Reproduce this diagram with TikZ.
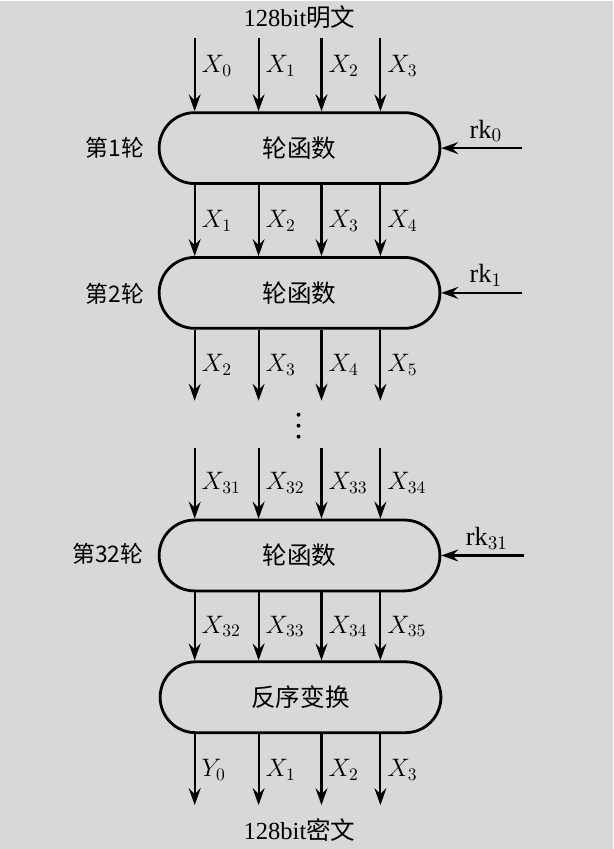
\documentclass[tikz,border=0pt]{standalone}
\usepackage{fontspec}
\setmainfont{Liberation Serif}
\newfontfamily\cjk{Noto Sans CJK SC}
\usetikzlibrary{arrows.meta,shapes.misc}
\definecolor{paper}{RGB}{216,216,216}
\tikzset{
  rbox/.style={draw, rounded rectangle, line width=1.6pt, minimum width=5.86cm, minimum height=1.42cm, font=\cjk\fontsize{14}{16}\selectfont},
  flow/.style={-{Stealth[length=3.4mm, width=2.4mm, inset=1.2mm]}, line width=1.2pt},
  xlbl/.style={midway, anchor=west, inner sep=0pt, xshift=1.2mm, font=\fontsize{14}{16}\selectfont},
  klbl/.style={pos=0.45, above=3pt, inner sep=0pt, font=\fontsize{15}{17}\selectfont},
  rlbl/.style={font=\cjk\fontsize{13}{15}\selectfont},
  ttl/.style={font=\fontsize{14}{16}\selectfont},
  dot/.style={fill=black},
}

\begin{document}
\begin{tikzpicture}[x=0.02cm, y=-0.02cm]
    \fill[paper] (0,0) rectangle (614,849);
    % plaintext in
    \node[ttl] (pt) at (300,16) {128bit{\cjk 明文}};
    \coordinate (a1) at (195,37);
    \coordinate (a2) at (259,37);
    \coordinate (a3) at (322,37);
    \coordinate (a4) at (381,37);
    % rounds
    \node[rbox] (r1) at (300,147) {轮函数};
    \node[rbox] (r2) at (300,292) {轮函数};
    \node[rbox] (r32) at (300,555) {轮函数};
    \node[rbox] (rev) at (301,697) {反序变换};
    \node[rlbl] (n1) at (115,147) {第1轮};
    \node[rlbl] (n2) at (115,293) {第2轮};
    \node[rlbl] (n32) at (108,553) {第32轮};
    \coordinate (k0) at (523,147);
    \coordinate (k1) at (523,292);
    \coordinate (k31) at (525,555);
    \coordinate (cut) at (300,400);
    \coordinate (resume) at (300,447);
    \coordinate (fin) at (300,805);
    \node[ttl] (ct) at (300,830) {128bit{\cjk 密文}};
    % gap between round 2 and round 32
    \fill[dot] (299,414) circle (2);
    \fill[dot] (299,425) circle (2);
    \fill[dot] (299,436) circle (2);
    % round keys
    \draw[flow] (k0) -- (r1.east) node[klbl]{$\mathrm{rk}_0$};
    \draw[flow] (k1) -- (r2.east) node[klbl]{$\mathrm{rk}_1$};
    \draw[flow] (k31) -- (r32.east) node[klbl]{$\mathrm{rk}_{31}$};
    % words
    \draw[flow] (a1) -- (a1 |- r1.north) node[xlbl, pos=0.38]{$X_0$};
    \draw[flow] (a2) -- (a2 |- r1.north) node[xlbl, pos=0.38]{$X_1$};
    \draw[flow] (a3) -- (a3 |- r1.north) node[xlbl, pos=0.38]{$X_2$};
    \draw[flow] (a4) -- (a4 |- r1.north) node[xlbl, pos=0.38]{$X_3$};
    \draw[flow] (a1 |- r1.south) -- (a1 |- r2.north) node[xlbl]{$X_1$};
    \draw[flow] (a2 |- r1.south) -- (a2 |- r2.north) node[xlbl]{$X_2$};
    \draw[flow] (a3 |- r1.south) -- (a3 |- r2.north) node[xlbl]{$X_3$};
    \draw[flow] (a4 |- r1.south) -- (a4 |- r2.north) node[xlbl]{$X_4$};
    \draw[flow] (a1 |- r2.south) -- (a1 |- cut) node[xlbl]{$X_2$};
    \draw[flow] (a2 |- r2.south) -- (a2 |- cut) node[xlbl]{$X_3$};
    \draw[flow] (a3 |- r2.south) -- (a3 |- cut) node[xlbl]{$X_4$};
    \draw[flow] (a4 |- r2.south) -- (a4 |- cut) node[xlbl]{$X_5$};
    \draw[flow] (a1 |- resume) -- (a1 |- r32.north) node[xlbl]{$X_{31}$};
    \draw[flow] (a2 |- resume) -- (a2 |- r32.north) node[xlbl]{$X_{32}$};
    \draw[flow] (a3 |- resume) -- (a3 |- r32.north) node[xlbl]{$X_{33}$};
    \draw[flow] (a4 |- resume) -- (a4 |- r32.north) node[xlbl]{$X_{34}$};
    \draw[flow] (a1 |- r32.south) -- (a1 |- rev.north) node[xlbl]{$X_{32}$};
    \draw[flow] (a2 |- r32.south) -- (a2 |- rev.north) node[xlbl]{$X_{33}$};
    \draw[flow] (a3 |- r32.south) -- (a3 |- rev.north) node[xlbl]{$X_{34}$};
    \draw[flow] (a4 |- r32.south) -- (a4 |- rev.north) node[xlbl]{$X_{35}$};
    \draw[flow] (a1 |- rev.south) -- (a1 |- fin) node[xlbl]{$Y_0$};
    \draw[flow] (a2 |- rev.south) -- (a2 |- fin) node[xlbl]{$X_1$};
    \draw[flow] (a3 |- rev.south) -- (a3 |- fin) node[xlbl]{$X_2$};
    \draw[flow] (a4 |- rev.south) -- (a4 |- fin) node[xlbl]{$X_3$};
  \end{tikzpicture}
\end{document}
